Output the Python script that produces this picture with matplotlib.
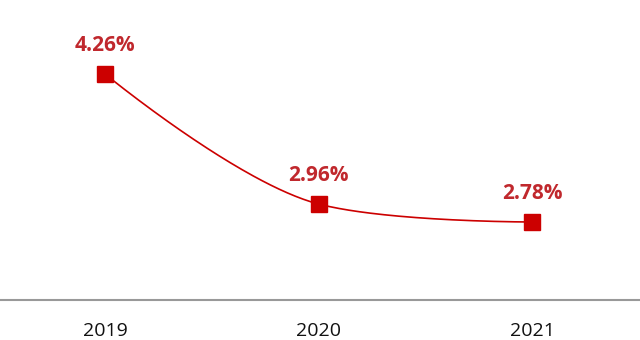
import matplotlib.pyplot as plt
import numpy as np

years = ["2019", "2020", "2021"]
rates = [4.26, 2.96, 2.78]

plt.rcParams['font.family'] = ['Open Sans', 'DejaVu Sans']


def Bezier(p0, c0, c1, p1, n=100):
    t = np.linspace(0, 1, n)[:, None]
    return (1 - t)**3 * p0 + 3 * (1 - t)**2 * t * c0 + 3 * (1 - t) * t**2 * c1 + t**3 * p1


# smooth line like the chart lib does it: bezier segments, control points clamped
# between neighbours so nothing overshoots. works in pixel space.
def SmoothLine(pts, smooth=0.35):
    pts = np.asarray(pts, dtype=float)
    n = len(pts)
    cpIn = [None] * n
    cpOut = [None] * n
    cpOut[0] = pts[0]
    cpIn[-1] = pts[-1]
    for i in range(1, n - 1):
        prev, cur, nxt = pts[i - 1], pts[i], pts[i + 1]
        v = nxt - prev
        lenPrev = np.hypot(*(cur - prev))
        lenNext = np.hypot(*(nxt - cur))
        ratio = lenNext / (lenPrev + lenNext)
        out = cur + v * smooth * ratio
        out = np.minimum(out, np.maximum(nxt, cur))
        out = np.maximum(out, np.minimum(nxt, cur))
        v = out - cur
        inn = cur - v * lenPrev / lenNext
        inn = np.minimum(inn, np.maximum(prev, cur))
        inn = np.maximum(inn, np.minimum(prev, cur))
        v = cur - inn
        cpIn[i] = inn
        cpOut[i] = cur + v * lenNext / lenPrev
    segs = [Bezier(pts[i], cpOut[i], cpIn[i + 1], pts[i + 1]) for i in range(n - 1)]
    return np.vstack(segs)


fig = plt.figure(figsize=(6.4, 3.4), dpi=100)
ax = fig.add_axes([0, 40 / 340, 1, 300 / 340])
ax.set_xlim(-0.492, 2.506)
ax.set_ylim(2, 5)

xPos = np.arange(len(years))
pix = ax.transData.transform(np.column_stack([xPos, rates]))
curve = ax.transData.inverted().transform(SmoothLine(pix))
ax.plot(curve[:, 0], curve[:, 1], color="#cc0000", linewidth=1.2, zorder=2)
ax.plot(xPos, rates, linestyle="none", marker="s", markersize=11.5, color="#cc0000", zorder=3)

for x, v in zip(xPos, rates):
    ax.annotate("%.2f%%" % v, (x, v), xytext=(0, 20.5), textcoords="offset points",
                ha="center", va="center", fontsize=15, fontweight="bold", color="#c0282d")

for side in ["top", "right", "left"]:
    ax.spines[side].set_visible(False)
ax.spines["bottom"].set_color("#999999")
ax.spines["bottom"].set_linewidth(1.5)

ax.set_yticks([])
ax.set_xticks(xPos)
ax.set_xticklabels(years, fontsize=14, color="#111111")
ax.tick_params(axis="x", length=0, pad=16)

fig.savefig("out.png", dpi=100)
